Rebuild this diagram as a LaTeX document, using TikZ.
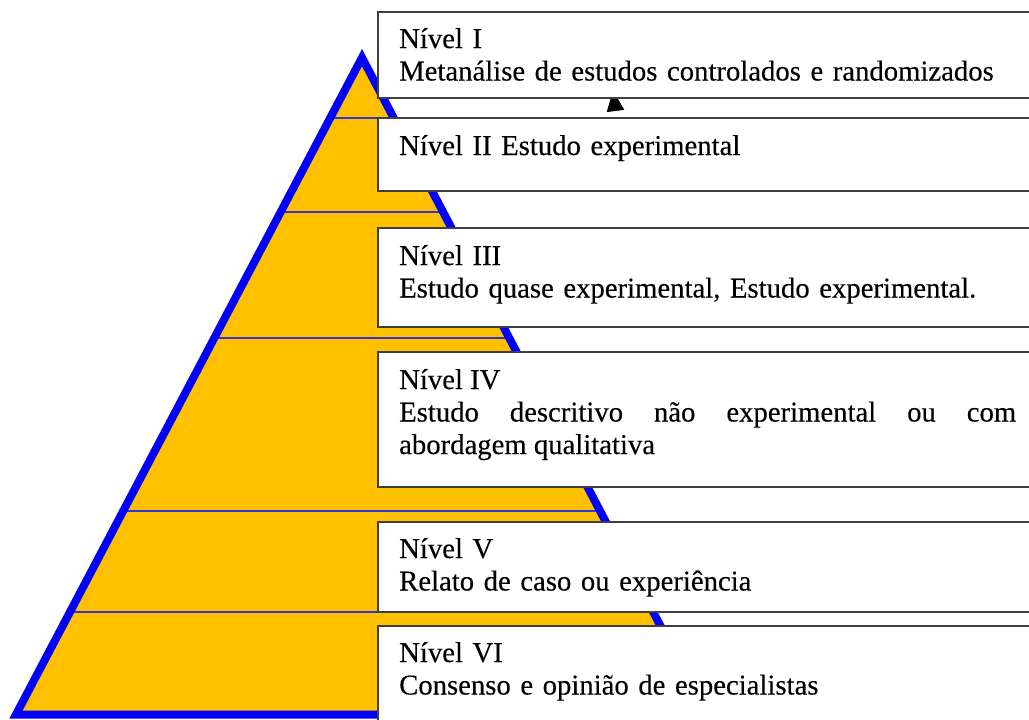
\documentclass[tikz,border=0pt]{standalone}
\usepackage{fontspec}
\setmainfont{Liberation Serif}
\newfontfamily\tierfamily{Liberation Serif}[FakeBold=0.3]
\usetikzlibrary{positioning,calc,arrows.meta}
\definecolor{amber}{HTML}{FFC000}
\definecolor{pureblue}{rgb}{0,0,1}
\definecolor{stripeblue}{HTML}{3535D5}
\definecolor{boxgray}{HTML}{404040}
\newcommand{\tierfont}{\tierfamily\fontsize{28.7pt}{32.5pt}\selectfont}
\tolerance=9999
\hyphenpenalty=10000
\exhyphenpenalty=10000

\begin{document}
\begin{tikzpicture}[x=1pt,y=-1pt,
    tier box/.style={rectangle,draw=boxgray,line width=1.5pt,fill=white,anchor=north west,
                     inner sep=0pt,outer sep=0pt,minimum width=680pt},
    tier text/.style={anchor=base west,inner sep=0pt,text width=617pt,align=left,font=\tierfont}]
\useasboundingbox (0,0) rectangle (1029,720);
\clip (0,0) rectangle (1029,720);
%Pyramid
    \coordinate (apex) at (362,57.6);
    \coordinate (bl) at (16,714.5);
    \coordinate (br) at (707,714.5);
    \fill[amber] (apex) -- (bl) -- (br) -- cycle;
    \foreach \y in {118,212,338,511,612}
        \draw[stripeblue, line width=2pt] ($(apex)!{(\y-57.6)/656.9}!(bl)$) -- ($(apex)!{(\y-57.6)/656.9}!(br)$);
    \draw[pureblue, line width=8pt] (apex) -- (bl) -- (br) -- cycle;

%Arrow (tip hidden under the first box)
    \coordinate (tail) at (615.5,111);
    \coordinate (tip) at (613,90.5);
    \draw[-{Triangle[length=20.6pt,width=17.5pt]}, line width=0.6pt] (tail) -- (tip);

%Boxes
    \node[tier box, minimum height=86pt] (b1) at (378,12) {};
    \node[tier box, minimum height=73pt] (b2) at (378,118) {};
    \node[tier box, minimum height=99pt] (b3) at (378,228) {};
    \node[tier box, minimum height=135pt] (b4) at (378,352) {};
    \node[tier box, minimum height=90pt] (b5) at (378,522) {};
    \node[tier box, minimum height=110pt] (b6) at (378,626) {};

%Texts
    \node[tier text] (t1) at (399,48) {Nível I\\Metanálise de estudos controlados e randomizados};
    \node[tier text] (t2) at (399,155) {Nível II Estudo experimental};
    \node[tier text] (t3) at (399,265) {Nível III\\Estudo quase experimental, Estudo experimental.};
    \node[tier text, align=justify] (t4) at (399,389) {Nível IV\\Estudo descritivo não experimental ou com abordagem qualitativa};
    \node[tier text] (t5) at (399,558) {Nível V\\Relato de caso ou experiência};
    \node[tier text] (t6) at (399,662) {Nível VI\\Consenso e opinião de especialistas};
\end{tikzpicture}
\end{document}
